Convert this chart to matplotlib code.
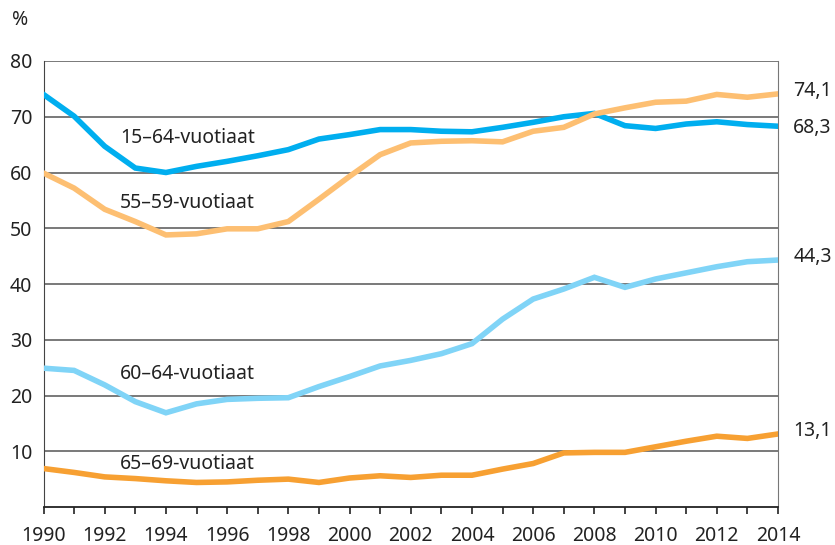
import matplotlib.pyplot as plt
import numpy as np

years = np.arange(1990, 2015)

age_15_64 = [74.0, 70.1, 64.7, 60.8, 60.0, 61.1, 62.0, 63.0, 64.1, 66.0, 66.8, 67.7, 67.7,
             67.4, 67.3, 68.1, 69.0, 70.0, 70.6, 68.4, 67.9, 68.7, 69.1, 68.6, 68.3]
age_55_59 = [59.9, 57.2, 53.4, 51.2, 48.8, 49.0, 49.9, 49.9, 51.2, 55.2, 59.3, 63.2, 65.3,
             65.6, 65.7, 65.5, 67.4, 68.1, 70.5, 71.6, 72.6, 72.8, 74.0, 73.5, 74.1]
age_60_64 = [24.9, 24.5, 21.9, 18.9, 16.9, 18.5, 19.3, 19.5, 19.6, 21.6, 23.4, 25.3, 26.3,
             27.5, 29.3, 33.7, 37.3, 39.1, 41.2, 39.4, 40.9, 42.0, 43.1, 44.0, 44.3]
age_65_69 = [6.9, 6.2, 5.4, 5.1, 4.7, 4.4, 4.5, 4.8, 5.0, 4.4, 5.2, 5.6, 5.3,
             5.7, 5.7, 6.8, 7.8, 9.7, 9.8, 9.8, 10.8, 11.8, 12.7, 12.3, 13.1]

series = [
    ('15–64-vuotiaat', age_15_64, '#00aeef', 66.2, '68,3'),
    ('55–59-vuotiaat', age_55_59, '#fdbf72', 54.6, '74,1'),
    ('60–64-vuotiaat', age_60_64, '#80d4f7', 23.9, '44,3'),
    ('65–69-vuotiaat', age_65_69, '#f7a032', 7.7, '13,1'),
]
end_label_y = {'74,1': 74.7, '68,3': 68.0, '44,3': 44.8, '13,1': 13.6}

plt.rcParams['font.family'] = ['Noto Sans', 'DejaVu Sans']
fs = 14
fig = plt.figure(figsize=(8.35, 5.45), dpi=100)
ax = fig.add_axes([43.5 / 835, 1 - 507 / 545, (778 - 43.5) / 835, (507 - 61) / 545])

for y in range(10, 90, 10):
    ax.axhline(y, color='#555555', lw=1.1, zorder=1)

for name, vals, col, ly, endtxt in series:
    ax.plot(years, vals, color=col, lw=4.0, solid_joinstyle='miter', zorder=3)
    ax.text(1992.5, ly, name, fontsize=fs, color='#222222', va='center', ha='left')
    ax.text(2014.5, end_label_y[endtxt], endtxt, fontsize=fs, color='#222222',
            va='center', ha='left')

ax.set_xlim(1990, 2014)
ax.set_ylim(0, 80)
ax.set_yticks(range(10, 90, 10))
ax.set_xticks(range(1990, 2015, 2))
ax.set_xticks(range(1990, 2015), minor=True)
ax.tick_params(axis='y', length=0, labelsize=fs, pad=8, colors='#222222')
ax.tick_params(axis='x', which='both', direction='out', length=5, width=1.2,
               labelsize=fs, colors='#222222', pad=9)
ax.spines['top'].set_visible(False)
ax.spines['left'].set_color('#444444')
ax.spines['right'].set_color('#777777')
ax.spines['bottom'].set_color('#222222')
ax.spines['bottom'].set_linewidth(1.3)

fig.text(12 / 835, 1 - 20 / 545, '%', fontsize=fs, color='#222222', va='center', ha='left')

fig.savefig('out.png', dpi=100)
